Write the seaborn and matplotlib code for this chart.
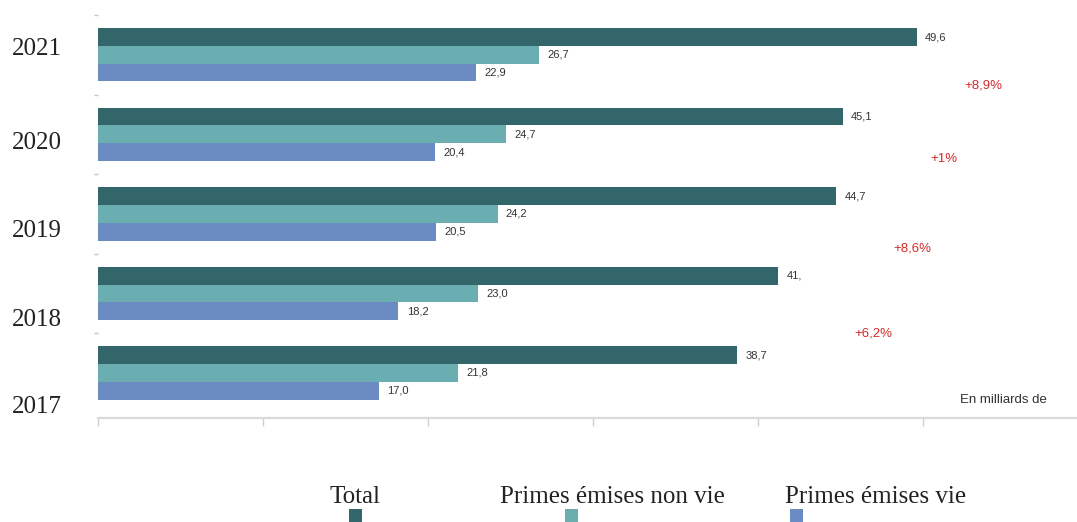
import matplotlib
matplotlib.use("Agg")
import matplotlib.pyplot as plt
from matplotlib.patches import Rectangle
import seaborn as sns
import pandas as pd

# ---------------- data ----------------
years = ["2021", "2020", "2019", "2018", "2017"]
series = ["Total", "Primes émises non vie", "Primes émises vie"]
total = [49.6, 45.1, 44.7, 41.2, 38.7]
non_vie = [26.7, 24.7, 24.2, 23.0, 21.8]
vie = [22.9, 20.4, 20.5, 18.2, 17.0]
total_labels = ["49,6", "45,1", "44,7", "41,", "38,7"]
non_vie_labels = ["26,7", "24,7", "24,2", "23,0", "21,8"]
vie_labels = ["22,9", "20,4", "20,5", "18,2", "17,0"]
growth_labels = ["+8,9%", "+1%", "+8,6%", "+6,2%"]
unit_note = "En milliards de"

# ---------------- layout / style ----------------
colors = ["#33666a", "#6aaeb1", "#6a8cc3"]
growth_pos = [(52.5, 0.39), (50.4, 1.31), (48.2, 2.44), (45.8, 3.51)]
year_label_pos = [-0.11, 1.08, 2.19, 3.30, 4.40]
W, H = 1077, 522

df = pd.DataFrame({
    "year": years * 3,
    "series": [series[0]] * 5 + [series[1]] * 5 + [series[2]] * 5,
    "value": total + non_vie + vie,
})

sns.set_style("white")
plt.rcParams["font.family"] = ["Liberation Sans", "DejaVu Sans"]

fig = plt.figure(figsize=(W / 100, H / 100), dpi=100)
ax = fig.add_axes([98 / W, 1 - 418 / H, 1 - 98 / W, 403 / H])

sns.barplot(data=df, x="value", y="year", hue="series", order=years,
            hue_order=series, palette=colors, saturation=1, width=0.67,
            orient="h", ax=ax, linewidth=0, legend=False, errorbar=None)

for cont, labs in zip(ax.containers, [total_labels, non_vie_labels, vie_labels]):
    ax.bar_label(cont, labels=labs, padding=6, fontsize=8, color="#333333")

ax.set_xlim(0, 59.3)
ax.set_ylim(4.566, -0.5)
ax.set_xlabel("")
ax.set_ylabel("")

ax.set_xticks([0, 10, 20, 30, 40, 50])
ax.set_xticklabels([])
ax.tick_params(axis="x", direction="out", length=6, width=1, color="#cfcfcf", bottom=True)

ax.set_yticks(year_label_pos)
ax.set_yticklabels(years, family="Liberation Serif", fontsize=18, color="#222222")
ax.tick_params(axis="y", which="major", length=0, pad=26)
ax.set_yticks([-0.5, 0.5, 1.5, 2.5, 3.5], minor=True)
ax.tick_params(axis="y", which="minor", length=3, width=1, color="#c4c4c4", left=True)

for s in ["left", "top", "right"]:
    ax.spines[s].set_visible(False)
ax.spines["bottom"].set_color("#dadada")
ax.spines["bottom"].set_linewidth(1.6)

for (gx, gy), txt in zip(growth_pos, growth_labels):
    ax.text(gx, gy, txt, color="#d42a2a", fontsize=9.5, ha="left", va="center",
            fontweight="medium")

ax.text(52.2, 4.34, unit_note, color="#333333", fontsize=9.5, ha="left", va="center")

# legend: label above a small colour square
leg_text_x = [355, 612, 876]
leg_sq_x = [349, 565, 790]
for name, col, tx, sx in zip(series, colors, leg_text_x, leg_sq_x):
    fig.text(tx / W, 1 - 497 / H, name, family="Liberation Serif", fontsize=18,
             color="#222222", ha="center", va="center")
    fig.patches.append(Rectangle((sx / W, 0), 13 / W, 13 / H, transform=fig.transFigure,
                                 facecolor=col, edgecolor="none"))

fig.savefig("out.png", dpi=100)
